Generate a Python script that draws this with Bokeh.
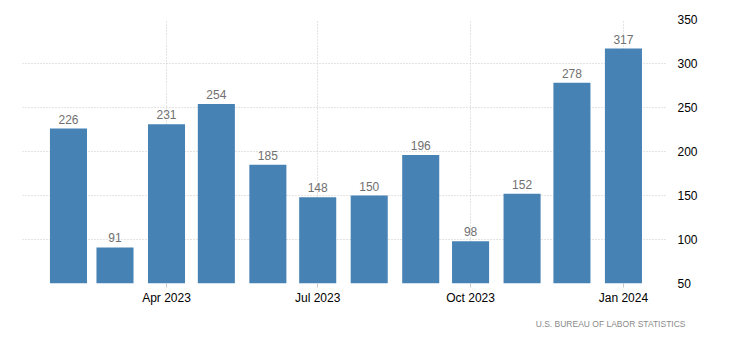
from datetime import datetime
from bokeh.plotting import figure
from bokeh.models import ColumnDataSource, FixedTicker, DatetimeTickFormatter, Range1d, Title
from bokeh.core.properties import value
from bokeh.embed import file_html
from bokeh.resources import INLINE

months = ["2023-02", "2023-03", "2023-04", "2023-05", "2023-06", "2023-07",
          "2023-08", "2023-09", "2023-10", "2023-11", "2023-12", "2024-01"]
values = [226, 91, 231, 254, 185, 148, 150, 196, 98, 152, 278, 317]
tick_months = ["2023-04", "2023-07", "2023-10", "2024-01"]
y_ticks = [50, 100, 150, 200, 250, 300, 350]
source_text = "U.S. BUREAU OF LABOR STATISTICS"

DAY = 86400000
dates = [datetime.strptime(m, "%Y-%m") for m in months]
src = ColumnDataSource(dict(x=dates, top=values, label=[str(v) for v in values]))

p = figure(width=730, height=351, x_axis_type="datetime", y_axis_location="right",
           output_backend="svg", toolbar_location=None,
           min_border_left=22, min_border_right=64, min_border_top=19, min_border_bottom=68)
p.x_range = Range1d(datetime(2023, 1, 4, 8), datetime(2024, 1, 26, 22))
p.y_range = Range1d(50, 350)
p.outline_line_color = None
p.background_fill_color = "white"
p.border_fill_color = "white"

p.vbar(x="x", top="top", bottom=50, width=22.3 * DAY, source=src,
       fill_color="#4682b4", line_color=None)
p.text(x="x", y="top", text="label", source=src, text_align="center",
       text_baseline="bottom", y_offset=-5, text_color="#707070",
       text_font=value("Liberation Sans"), text_font_size="12px")

tick_ms = [datetime.strptime(m, "%Y-%m").timestamp() * 1000 for m in tick_months]
p.xaxis.ticker = FixedTicker(ticks=tick_ms)
p.xaxis.formatter = DatetimeTickFormatter(months="%b %Y", days="%b %Y")
p.xaxis.axis_line_color = None
p.xaxis.major_tick_in = 0
p.xaxis.major_tick_out = 4
p.xaxis.major_tick_line_color = "#c8c8c8"
p.xaxis.minor_tick_line_color = None
p.xaxis.major_label_text_font = "Liberation Sans"
p.xaxis.major_label_text_font_size = "12px"
p.xaxis.major_label_text_color = "#000000"
p.xaxis.major_label_standoff = 3

p.yaxis.ticker = FixedTicker(ticks=y_ticks)
p.yaxis.axis_line_color = None
p.yaxis.major_tick_line_color = None
p.yaxis.minor_tick_line_color = None
p.yaxis.major_label_text_font = "Liberation Sans"
p.yaxis.major_label_text_font_size = "12px"
p.yaxis.major_label_text_color = "#000000"
p.yaxis.major_label_standoff = 5

p.xgrid.grid_line_color = "#c8c8c8"
p.xgrid.grid_line_dash = "1 2"
p.ygrid.grid_line_color = "#c8c8c8"
p.ygrid.grid_line_dash = "1 2"

p.add_layout(Title(text=source_text, align="right", offset=-19, standoff=18,
                   text_color="#8a8a8a", text_font="Liberation Sans",
                   text_font_size="8.5px", text_font_style="normal"), "below")

open("out.html", "w").write(file_html(p, INLINE))
